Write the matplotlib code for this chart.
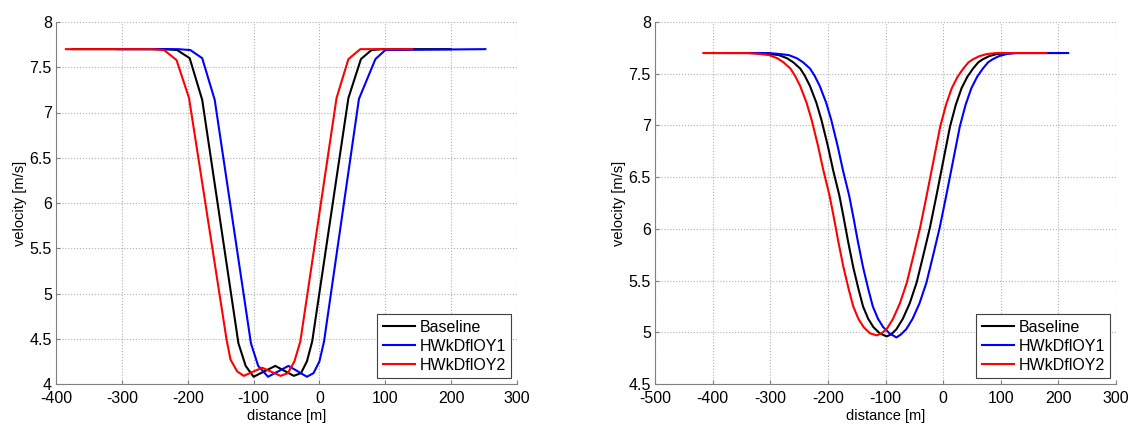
import numpy as np
import matplotlib
matplotlib.use("Agg")
import matplotlib.pyplot as plt
from matplotlib.ticker import FuncFormatter

plt.rcParams['font.family'] = ['Liberation Sans', 'DejaVu Sans']
plt.rcParams['axes.unicode_minus'] = False

labels = ['Baseline', 'HWkDflOY1', 'HWkDflOY2']
colors = ['k', 'b', 'r']

# left panel: distance [m], velocity [m/s]
base_d = [-375, -235, -216, -197, -178, -123, -112, -100, -67, -39, -28, -19, -11, 44, 63, 79, 95, 199]
base_v = [7.70, 7.70, 7.69, 7.60, 7.14, 4.45, 4.20, 4.08, 4.20, 4.09, 4.12, 4.25, 4.47, 7.16, 7.59, 7.69, 7.70, 7.70]
oy1_d = [-307, -215, -196, -178, -159, -104, -93, -78, -47, -19, -9, 0, 7, 60, 85, 100, 252]
oy1_v = [7.70, 7.70, 7.69, 7.60, 7.14, 4.45, 4.20, 4.08, 4.20, 4.08, 4.12, 4.25, 4.47, 7.15, 7.59, 7.69, 7.70]
oy2_d = [-385, -255, -236, -217, -198, -141, -135, -125, -115, -87, -59, -48, -38, -29, 26, 44, 62, 78, 141]
oy2_v = [7.70, 7.70, 7.69, 7.58, 7.16, 4.49, 4.27, 4.14, 4.09, 4.18, 4.09, 4.12, 4.25, 4.47, 7.16, 7.59, 7.70, 7.70, 7.70]

# right panel
base2_d = [-399, -320, -300, -285, -271, -260, -248, -240, -231, -220, -211, -200, -191, -180, -173, -165,
           -156, -147, -139, -130, -121, -110, -98, -90, -81, -70, -58, -46, -35, -23, -12, 0, 12, 22, 32,
           42, 52, 61, 69, 80, 93, 110, 130, 202]
base2_v = [7.70, 7.70, 7.69, 7.68, 7.65, 7.61, 7.55, 7.48, 7.38, 7.22, 7.05, 6.80, 6.57, 6.32, 6.12, 5.88,
           5.63, 5.42, 5.25, 5.13, 5.05, 4.99, 4.96, 4.98, 5.03, 5.13, 5.28, 5.48, 5.73, 6.01, 6.31, 6.65, 6.99, 7.20, 7.36,
           7.47, 7.55, 7.61, 7.64, 7.67, 7.69, 7.70, 7.70, 7.70]
oy1b_d = [-380, -303, -283, -268, -254, -243, -231, -223, -214, -203, -194, -183, -174, -163, -156, -148,
          -139, -130, -122, -113, -104, -93, -81, -73, -64, -53, -41, -29, -18, -6, 5, 17, 29, 39, 49,
          59, 69, 78, 86, 97, 110, 127, 147, 217]
oy1b_v = [7.70, 7.70, 7.69, 7.68, 7.65, 7.61, 7.55, 7.48, 7.38, 7.22, 7.05, 6.80, 6.57, 6.32, 6.12, 5.88,
          5.63, 5.42, 5.25, 5.13, 5.05, 4.99, 4.95, 4.98, 5.03, 5.13, 5.28, 5.48, 5.73, 6.01, 6.31, 6.65, 6.99, 7.20, 7.36,
          7.47, 7.55, 7.61, 7.64, 7.67, 7.69, 7.70, 7.70, 7.70]
oy2b_d = [-416, -340, -317, -302, -288, -277, -265, -257, -248, -237, -228, -217, -208, -197, -190, -182,
          -173, -164, -156, -147, -138, -127, -115, -107, -98, -87, -75, -63, -52, -40, -29, -17, -5, 5, 15,
          25, 35, 44, 52, 63, 76, 93, 113, 179]
oy2b_v = [7.70, 7.70, 7.69, 7.68, 7.65, 7.61, 7.55, 7.48, 7.38, 7.22, 7.05, 6.80, 6.57, 6.32, 6.12, 5.88,
          5.63, 5.42, 5.25, 5.13, 5.05, 4.99, 4.97, 4.99, 5.03, 5.13, 5.28, 5.48, 5.73, 6.01, 6.31, 6.65, 6.99, 7.20, 7.36,
          7.47, 7.55, 7.61, 7.64, 7.67, 7.69, 7.70, 7.70, 7.70]

panels = [
    dict(series=[(base_d, base_v), (oy1_d, oy1_v), (oy2_d, oy2_v)],
         xlim=(-400, 300), ylim=(4, 8), pos=[56/1138, 44/428, 461/1138, 362/428]),
    dict(series=[(base2_d, base2_v), (oy1b_d, oy1b_v), (oy2b_d, oy2b_v)],
         xlim=(-500, 300), ylim=(4.5, 8), pos=[655/1138, 44/428, 461/1138, 362/428]),
]

fig = plt.figure(figsize=(11.38, 4.28), dpi=100)
axcol = '#808080'

for p in panels:
    ax = fig.add_axes(p['pos'])
    for (d, v), c, lab in zip(p['series'], colors, labels):
        ax.plot(d, v, color=c, lw=1.5, label=lab)
    ax.set_xlim(*p['xlim'])
    ax.set_ylim(*p['ylim'])
    ax.set_xticks(np.arange(p['xlim'][0], p['xlim'][1] + 1, 100))
    ax.set_yticks(np.arange(p['ylim'][0], p['ylim'][1] + 0.01, 0.5))
    ax.yaxis.set_major_formatter(FuncFormatter(lambda y, _: '%g' % y))
    ax.grid(True, linestyle=':', color='#b0b0b0', lw=0.8)
    for s in ['top', 'right']:
        ax.spines[s].set_visible(False)
    for s in ['left', 'bottom']:
        ax.spines[s].set_color(axcol)
    ax.tick_params(direction='in', length=3, color=axcol, labelsize=11.5)
    ax.tick_params(axis='x', pad=5)
    ax.tick_params(axis='y', pad=3)
    ax.set_xlabel('distance [m]', fontsize=10.5, labelpad=2)
    ax.set_ylabel('velocity [m/s]', fontsize=10.5, labelpad=2)
    leg = ax.legend(loc='lower right', fontsize=11.5, frameon=True, fancybox=False,
                    edgecolor='#404040', framealpha=1, borderaxespad=0.35,
                    handlelength=2.0, handletextpad=0.3, labelspacing=0.25, borderpad=0.35)
    leg.get_frame().set_linewidth(0.8)

fig.savefig('out.png', dpi=100)
